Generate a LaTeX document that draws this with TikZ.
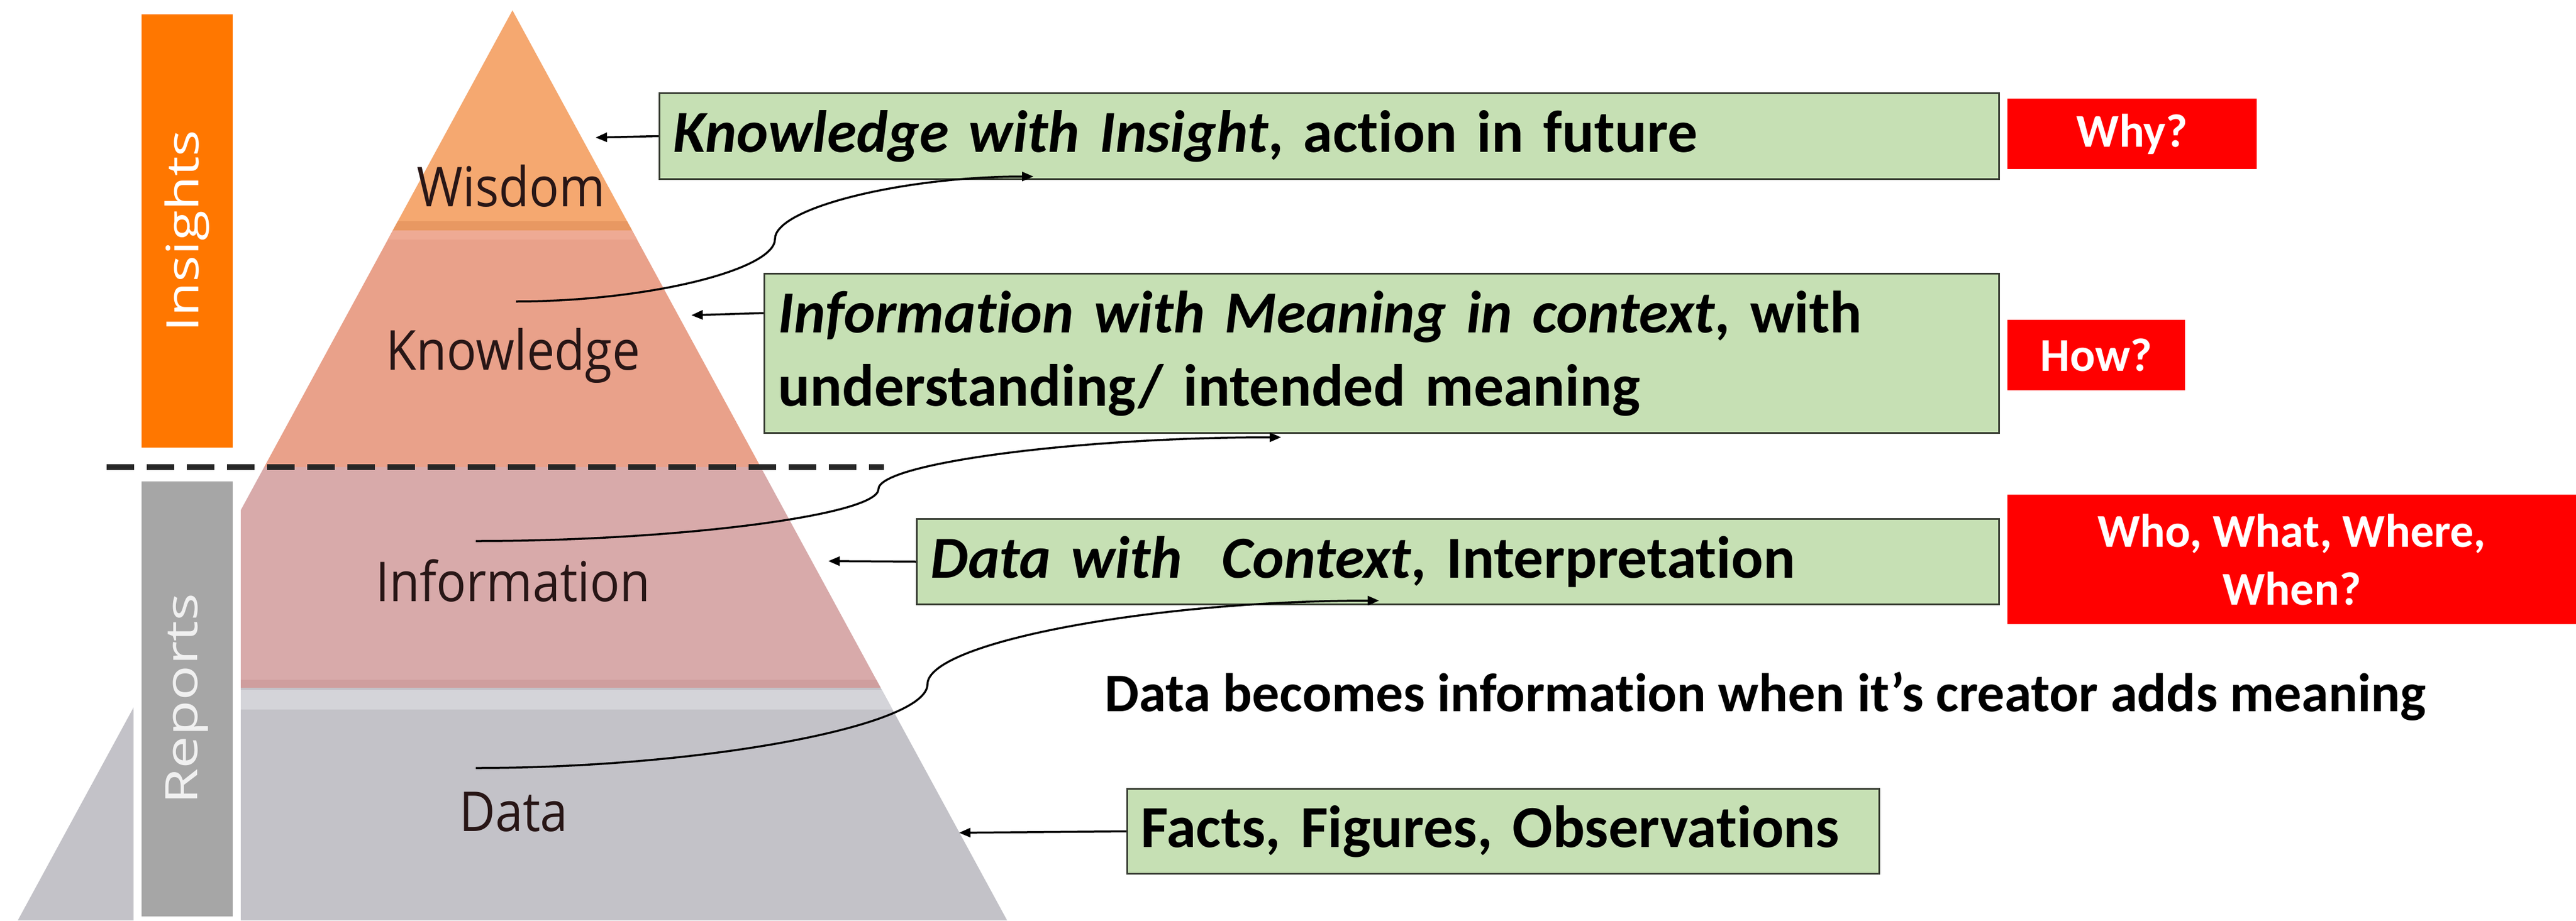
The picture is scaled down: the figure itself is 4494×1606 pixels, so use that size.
\documentclass[tikz,border=0pt]{standalone}
\usepackage{fontspec}
\setmainfont{Carlito}[Ligatures=NoCommon]
\newfontfamily\segfont{Open Sans}
\usetikzlibrary{arrows.meta,calc}
\definecolor{wiscol}{RGB}{245,168,112}
\definecolor{wisdark}{RGB}{232,152,98}
\definecolor{knocol}{RGB}{233,161,138}
\definecolor{knolight}{RGB}{238,170,148}
\definecolor{infcol}{RGB}{216,170,170}
\definecolor{infdark}{RGB}{207,158,158}
\definecolor{datcol}{RGB}{195,194,200}
\definecolor{datlight}{RGB}{212,212,217}
\definecolor{inscol}{RGB}{255,119,0}
\definecolor{repcol}{RGB}{166,166,166}
\definecolor{boxgreen}{RGB}{198,224,180}
\definecolor{boxline}{RGB}{55,60,50}
\definecolor{lblcol}{RGB}{40,22,22}
\newcommand{\boxfont}{\fontsize{104pt}{128pt}\selectfont\bfseries}
\newcommand{\redfont}{\fontsize{82pt}{101pt}\selectfont\bfseries}
\newcommand{\lblfont}{\segfont\fontsize{96pt}{110pt}\selectfont}
\newcommand{\barfont}{\segfont\fontsize{78pt}{90pt}\selectfont}
\begin{document}
\begin{tikzpicture}[x=1pt,y=-1pt,
  gbox/.style={draw=boxline,line width=3pt,fill=boxgreen,anchor=north west,
    inner xsep=24pt,inner ysep=0pt,align=left,font=\boxfont},
  rbox/.style={fill=red,text=white,anchor=north west,inner sep=0pt,align=center,font=\redfont},
  lbl/.style={anchor=base,text=lblcol,font=\lblfont,inner sep=0pt},
  barbox/.style={rotate=90,draw=white,line width=14pt,text=white,font=\barfont,inner sep=0pt},
  arr/.style={line width=3.5pt,-{Triangle[length=20pt,width=16pt]}},
  dashline/.style={line width=10pt,draw=black!85,dash pattern=on 48pt off 22pt}]
\useasboundingbox (0,0) rectangle (4494,1606);
\fill[white] (0,0) rectangle (4494,1606);

% pyramid
\begin{scope}
\clip (894,18) -- (31,1606) -- (1757,1606) -- cycle;
\fill[wiscol] (0,0) rectangle (1800,402);
\fill[wisdark] (0,386) rectangle (1800,402);
\fill[knocol] (0,402) rectangle (1800,815);
\fill[knolight] (0,402) rectangle (1800,418);
\fill[infcol] (0,815) rectangle (1800,1200);
\fill[infdark] (0,1186) rectangle (1800,1200);
\fill[datcol] (0,1200) rectangle (1800,1606);
\fill[datlight] (0,1204) rectangle (1800,1238);
\end{scope}

% side bars
\node[barbox,fill=inscol,minimum width=770pt,minimum height=173pt] (ins) at (326.5,403) {\scalebox{1.25}[1]{Insights}};
\node[barbox,fill=repcol,text=white!94!black,minimum width=773pt,minimum height=173pt] (rep) at (326.5,1219.5) {\scalebox{1.3}[1]{Reports}};

% dashed separator
\coordinate (dl) at (186,815);
\coordinate (dr) at (1542,815);
\draw[dashline] (dl) -- (dr);

% pyramid labels
\node[lbl] (wis) at (892,360) {\scalebox{0.9}[1]{Wisdom}};
\node[lbl] (kno) at (895,645) {\scalebox{0.9}[1]{Knowledge}};
\node[lbl] (inf) at (895,1049) {\scalebox{0.9}[1]{Information}};
\node[lbl] (dat) at (896,1450) {\scalebox{0.9}[1]{Data}};

% green boxes
\node[gbox,minimum width=2337pt,minimum height=150pt,text width=2289pt] (b1) at (1149,161)
  {\textit{Knowledge with Insight}, action in future};
\node[gbox,minimum width=2154pt,minimum height=278pt,text width=2106pt] (b2) at (1332,476)
  {\textit{Information with Meaning in context}, with\\understanding/ intended meaning};
\node[gbox,minimum width=1888pt,minimum height=149pt,text width=1840pt] (b3) at (1598,904)
  {\textit{Data with\ \ Context}, Interpretation};
\node[gbox,minimum width=1312pt,minimum height=148pt,text width=1264pt] (b4) at (1965,1375)
  {Facts, Figures, Observations};

% red boxes
\node[rbox,minimum width=435pt,minimum height=123pt] (why) at (3502,172) {Why?};
\node[rbox,minimum width=310pt,minimum height=123pt] (how) at (3502,558) {How?};
\node[rbox,minimum width=992pt,minimum height=226pt] (who) at (3502,863) {Who, What, Where,\\When?};

% note
\node[anchor=base,inner sep=0pt,font=\fontsize{95pt}{110pt}\selectfont\bfseries] (note) at (3080,1241)
  {Data becomes information when it’s creator adds meaning};

% straight arrows
\coordinate (t1) at (1039,240);
\coordinate (t2) at (1206,550);
\coordinate (t3) at (1445,979);
\coordinate (t4) at (1673,1453);
\draw[arr] (b1.west) -- (t1);
\draw[arr] ($(b2.north west)!0.25!(b2.south west)$) -- (t2);
\draw[arr] (b3.west) -- (t3);
\draw[arr] (b4.west) -- (t4);

% curved connectors
\coordinate (c1s) at (900,526);
\coordinate (c1e) at (1803,308);
\coordinate (c2s) at (830,944);
\coordinate (c2e) at (2235,763);
\coordinate (c3s) at (830,1340);
\coordinate (c3e) at (2406,1048);
\draw[arr] (c1s) .. controls (1126,526) and (1352,471.5) .. (1352,417)
  .. controls (1352,362.5) and (1577.5,308) .. (c1e);
\draw[arr] (c2s) .. controls (1181.25,944) and (1532.5,898.75) .. (1532.5,853.5)
  .. controls (1532.5,808.25) and (1883.75,763) .. (c2e);
\draw[arr] (c3s) .. controls (1224,1340) and (1618,1267) .. (1618,1194)
  .. controls (1618,1121) and (2012,1048) .. (c3e);
\end{tikzpicture}
\end{document}
